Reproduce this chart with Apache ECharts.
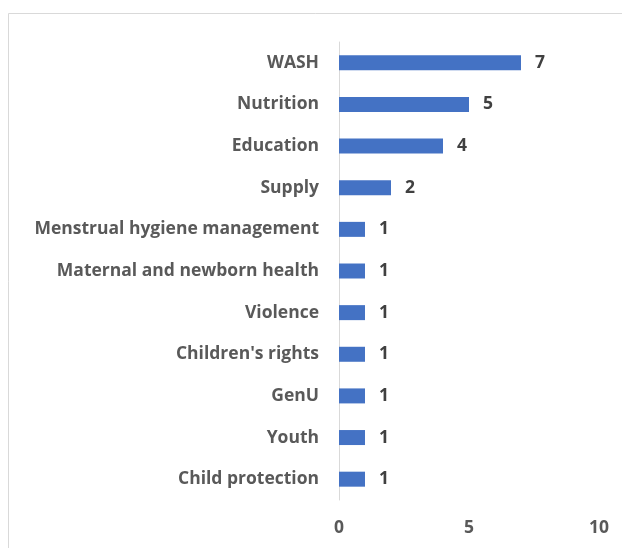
<!DOCTYPE html>
<html><head><meta charset="utf-8">
<script src="https://cdn.jsdelivr.net/npm/echarts@6/dist/echarts.min.js"></script>
<style>html,body{margin:0;padding:0;background:#fff}#c{width:622px;height:548px}</style>
</head><body><div id="c"></div>
<script>
const categories = ["WASH","Nutrition","Education","Supply","Menstrual hygiene management","Maternal and newborn health","Violence","Children's rights","GenU","Youth","Child protection"];
const values = [7,5,4,2,1,1,1,1,1,1,1];
const xTicks = [0,5,10];

const chart = echarts.init(document.getElementById('c'));
chart.setOption({
  animation:false,
  backgroundColor:'#fff',
  graphic:[{type:'rect',shape:{x:8.5,y:13.5,width:700,height:600},style:{fill:'none',stroke:'#d9d9d9',lineWidth:1}}],
  grid:{left:339,right:23,top:42,bottom:48,containLabel:false},
  xAxis:{type:'value',min:0,max:10,interval:5,
    axisLine:{show:false},axisTick:{show:false},splitLine:{show:false},
    axisLabel:{margin:19,color:'#595959',fontFamily:'Open Sans',fontWeight:'bold',fontSize:17.5}},
  yAxis:{type:'category',inverse:true,data:categories,
    axisLine:{show:true,lineStyle:{color:'#d9d9d9',width:1}},axisTick:{show:false},
    axisLabel:{margin:20,color:'#595959',fontFamily:'Open Sans',fontWeight:'bold',fontSize:17.5}},
  series:[{type:'bar',data:values,barWidth:15,
    itemStyle:{color:'#4472c4'},
    label:{show:true,position:'right',distance:14,color:'#404040',fontFamily:'Open Sans',fontWeight:'bold',fontSize:17.5}}]
});
</script></body></html>
